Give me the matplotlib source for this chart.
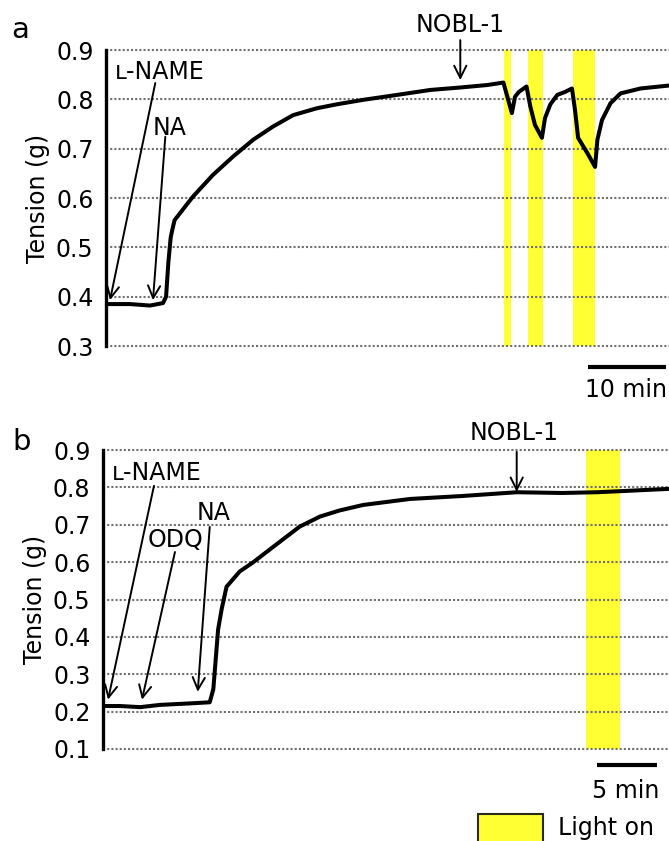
import matplotlib
matplotlib.use("Agg")
import matplotlib.pyplot as plt
from matplotlib.patches import Rectangle

plt.rcParams['font.family'] = ['DejaVu Sans']

# ---------------- data ----------------
# Panel a: time (min) and tension (g)
time_a = [0, 3.1, 5.7, 7.4, 7.8, 8.1, 8.4, 8.6, 8.9, 9.6, 11.3, 13.9, 16.5,
          19.1, 21.7, 24.3, 27.4, 30.0, 33.4, 37.8, 42.1, 46.0, 49.5, 51.6,
          52.7, 53.1, 53.6, 54.6, 55.1, 55.7, 56.6, 57.0, 57.7, 58.6, 59.6,
          60.5, 60.9, 61.3, 62.5, 63.5, 63.8, 64.4, 65.5, 66.8, 69.4, 73.1]
tension_a = [0.385, 0.385, 0.382, 0.387, 0.40, 0.47, 0.52, 0.535, 0.555,
             0.569, 0.603, 0.647, 0.684, 0.718, 0.745, 0.768, 0.782, 0.79,
             0.799, 0.809, 0.819, 0.824, 0.829, 0.834, 0.772, 0.805, 0.815,
             0.826, 0.785, 0.748, 0.722, 0.762, 0.79, 0.809, 0.815, 0.822,
             0.778, 0.722, 0.691, 0.663, 0.718, 0.758, 0.792, 0.812, 0.822,
             0.828]
light_a = [(51.7, 52.6), (54.8, 56.75), (60.65, 63.5)]

# Panel b
time_b = [0, 1.4, 3.1, 4.75, 7.25, 8.9, 9.2, 9.6, 9.9, 10.3, 11.4, 12.5, 14.2,
          16.4, 18.1, 19.7, 21.7, 25.6, 30.0, 34.5, 38.3, 41.2, 43.9, 47.2]
tension_b = [0.215, 0.215, 0.212, 0.218, 0.222, 0.225, 0.26, 0.42, 0.475,
             0.534, 0.575, 0.599, 0.641, 0.695, 0.722, 0.738, 0.753, 0.769,
             0.777, 0.787, 0.785, 0.787, 0.791, 0.796]
light_b = [(40.3, 43.1)]

yticks_a = [0.3, 0.4, 0.5, 0.6, 0.7, 0.8, 0.9]
yticks_b = [0.1, 0.2, 0.3, 0.4, 0.5, 0.6, 0.7, 0.8, 0.9]

YELLOW = '#FFFF33'
FS = 17

fig = plt.figure(figsize=(6.69, 8.41), dpi=100)

W, H = 669.0, 841.0


def axes_px(x0, x1, ytop, ybot):
    return fig.add_axes([x0 / W, 1 - ybot / H, (x1 - x0) / W, (ybot - ytop) / H])


def style(ax, yticks, xmax):
    ymin, ymax = yticks[0], yticks[-1]
    ax.set_xlim(0, xmax)
    ax.set_ylim(ymin, ymax)
    for s in ['top', 'right', 'bottom']:
        ax.spines[s].set_visible(False)
    ax.spines['left'].set_linewidth(2.4)
    ax.set_xticks([])
    ax.set_yticks(yticks)
    ax.set_yticklabels([f"{v:.1f}" for v in yticks], fontsize=FS)
    ax.tick_params(axis='y', length=0, pad=9)
    for v in yticks:
        ax.axhline(v, color='#707070', lw=1.5, dashes=(1, 1.0), zorder=1,
                   clip_on=False)
    ax.set_ylabel('Tension (g)', fontsize=FS, labelpad=4)


def light(ax, spans, yticks):
    for x0, x1 in spans:
        ax.fill_between([x0, x1], yticks[0], yticks[-1], color=YELLOW, lw=0,
                        zorder=0)


arrow_kw = dict(arrowstyle='->', lw=1.4, color='black', mutation_scale=22,
                shrinkA=0, shrinkB=0)


def label_arrow(ax, text, tip, tail, textpos, **kw):
    ax.annotate('', xy=tip, xytext=tail, arrowprops=arrow_kw, zorder=5)
    ax.text(textpos[0], textpos[1], text, fontsize=FS, ha='center',
            va='center', zorder=6, **kw)


# ---------------- panel a ----------------
axa = axes_px(106, 669, 50, 346)
style(axa, yticks_a, 73.1)
light(axa, light_a, yticks_a)
axa.plot(time_a, tension_a, color='black', lw=2.9, zorder=4,
         solid_joinstyle='round')
label_arrow(axa, '\u029f-NAME', (0.52, 0.393), (6.4, 0.833), (7.0, 0.855))
label_arrow(axa, 'NA', (6.1, 0.393), (7.7, 0.724), (8.3, 0.742))
label_arrow(axa, 'NOBL-1', (46.0, 0.839), (46.0, 0.92), (46.0, 0.951))
axa.plot([62.6, 72.7], [0.257, 0.257], color='black', lw=3, clip_on=False,
         solid_capstyle='butt')
axa.text(72.9, 0.211, '10 min', fontsize=FS, ha='right', va='center')

# ---------------- panel b ----------------
axb = axes_px(103, 669, 450, 749)
style(axb, yticks_b, 47.2)
light(axb, light_b, yticks_b)
axb.plot(time_b, tension_b, color='black', lw=2.9, zorder=4,
         solid_joinstyle='round')
label_arrow(axb, '\u029f-NAME', (0.42, 0.232), (4.25, 0.804), (4.5, 0.838))
label_arrow(axb, 'ODQ', (3.25, 0.232), (6.0, 0.627), (6.05, 0.659))
label_arrow(axb, 'NA', (7.9, 0.253), (8.9, 0.694), (9.2, 0.732))
label_arrow(axb, 'NOBL-1', (34.5, 0.788), (34.5, 0.895), (34.3, 0.945))
axb.plot([41.2, 46.2], [0.058, 0.058], color='black', lw=3, clip_on=False,
         solid_capstyle='butt')
axb.text(46.4, -0.012, '5 min', fontsize=FS, ha='right', va='center')

# panel letters
fig.text(20 / W, 1 - 30 / H, 'a', fontsize=21, ha='center', va='center')
fig.text(22 / W, 1 - 442 / H, 'b', fontsize=21, ha='center', va='center')

# legend
fig.patches.append(Rectangle((478 / W, 1 - 850 / H), 65 / W, 36 / H,
                             transform=fig.transFigure, facecolor=YELLOW,
                             edgecolor='#2a2a1a', lw=1.5))
fig.text(558 / W, 1 - 828 / H, 'Light on', fontsize=FS, ha='left', va='center')

fig.savefig('out.png', dpi=100)
